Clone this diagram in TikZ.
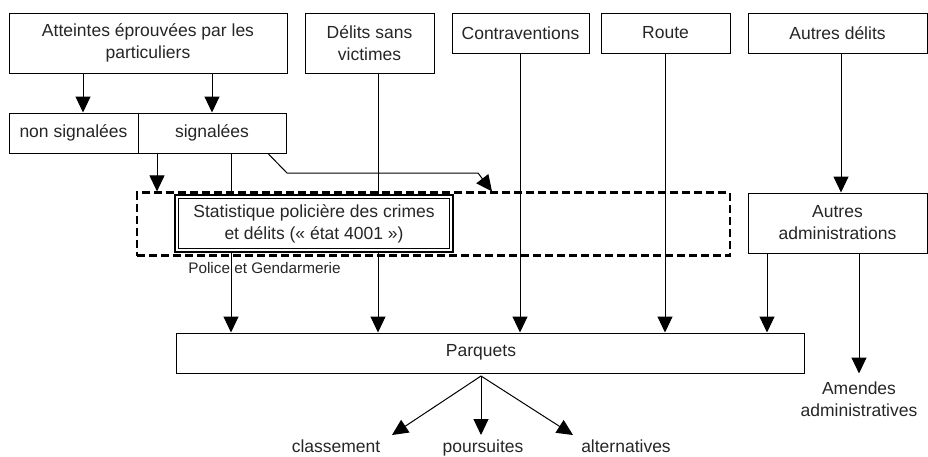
\documentclass[tikz,border=0pt]{standalone}
\usepackage{fontspec}
\setmainfont{Liberation Sans}
\usetikzlibrary{arrows.meta,backgrounds}
\begin{document}
\begin{tikzpicture}[x=1pt,y=1pt,
  font=\fontsize{17.5}{22}\selectfont,
  box/.style={draw,line width=1pt,fill=white,inner sep=0pt,align=center,text=black!85},
  lbl/.style={inner sep=1pt,align=center,text=black!85},
  arr/.style={line width=1pt,-{Triangle[length=16pt,width=15pt]}},
  dashbox/.style={draw,line width=2.2pt,dash pattern=on 8pt off 4pt,inner sep=0pt}]
\useasboundingbox (0,0) rectangle (928,-456);
% top row
\node[box,minimum width=278pt,minimum height=60pt] (att) at (148,-43) {Atteintes éprouvées par les\\particuliers};
\node[box,minimum width=129pt,minimum height=60pt] (dsv) at (369.5,-43) {Délits sans\\victimes};
\node[box,minimum width=137pt,minimum height=40pt] (contr) at (520.5,-33) {Contraventions};
\node[box,minimum width=129pt,minimum height=40pt] (route) at (665.5,-33) {Route};
\node[box,minimum width=179pt,minimum height=40pt] (autres) at (837.5,-33) {Autres délits};
% second row
\node[box,minimum width=129pt,minimum height=40pt] (nonsig) at (73.5,-133) {non signalées};
\node[box,minimum width=148pt,minimum height=40pt] (sig) at (212,-133) {signalées};
% dashed zone
\node[dashbox,minimum width=593pt,minimum height=63pt] (zone) at (433.5,-224) {};
\node[box,minimum width=278pt,minimum height=57pt,line width=1.6pt] (stat) at (314,-223.5) {};
\node[draw,line width=0.8pt,minimum width=271pt,minimum height=50pt,inner sep=0pt,align=center,text=black!85] (statin) at (314,-223.5) {Statistique policière des crimes\\et délits (« état 4001 »)};
\node[lbl,font=\fontsize{15.3}{18}\selectfont] (police) at (264.5,-268) {Police et Gendarmerie};
\node[box,minimum width=179pt,minimum height=60pt] (adm) at (837.5,-223) {Autres\\administrations};
% parquets
\node[box,minimum width=628pt,minimum height=40pt] (parq) at (490,-353) {};
\node[lbl] (parqtxt) at (481,-352) {Parquets};
\node[lbl] (amendes) at (859,-399) {Amendes\\administratives};
\node[lbl,anchor=base] (classe) at (336,-452) {classement};
\node[lbl,anchor=base] (pours) at (483,-452) {poursuites};
\node[lbl,anchor=base] (alter) at (626,-452) {alternatives};
\coordinate (src) at (481,-376);
\coordinate (b1) at (287,-173);
\coordinate (b2) at (478,-173);
\coordinate (tc) at (392,-435);
\coordinate (tp) at (481,-435);
\coordinate (ta) at (573,-435);
\begin{scope}[on background layer]
\draw[arr] ([xshift=-65pt]att.south) -- ([xshift=-65pt]att.south |- nonsig.north);
\draw[arr] ([xshift=64pt]att.south) -- ([xshift=64pt]att.south |- sig.north);
\draw[arr] ([xshift=-55pt]sig.south) -- ([xshift=-55pt]sig.south |- zone.north);
\draw[arr] ([xshift=19pt]sig.south) -- ([xshift=19pt]sig.south |- parq.north);
\draw[arr] ([xshift=56pt]sig.south) -- (b1) -- (b2) -- ([xshift=58.5pt]zone.north);
\draw[arr] ([xshift=8.5pt]dsv.south) -- ([xshift=8.5pt]dsv.south |- parq.north);
\draw[arr] ([xshift=-0.5pt]contr.south) -- ([xshift=-0.5pt]contr.south |- parq.north);
\draw[arr] ([xshift=-0.5pt]route.south) -- ([xshift=-0.5pt]route.south |- parq.north);
\draw[arr] ([xshift=3.5pt]autres.south) -- ([xshift=3.5pt]autres.south |- adm.north);
\draw[arr] ([xshift=-70.5pt]adm.south) -- ([xshift=-70.5pt]adm.south |- parq.north);
\draw[arr] ([xshift=21.5pt]adm.south) -- ([xshift=21.5pt]adm.south |- parq.south);
\end{scope}
\draw[arr] (src) -- (tc);
\draw[arr] (src) -- (tp);
\draw[arr] (src) -- (ta);
\end{tikzpicture}
\end{document}
